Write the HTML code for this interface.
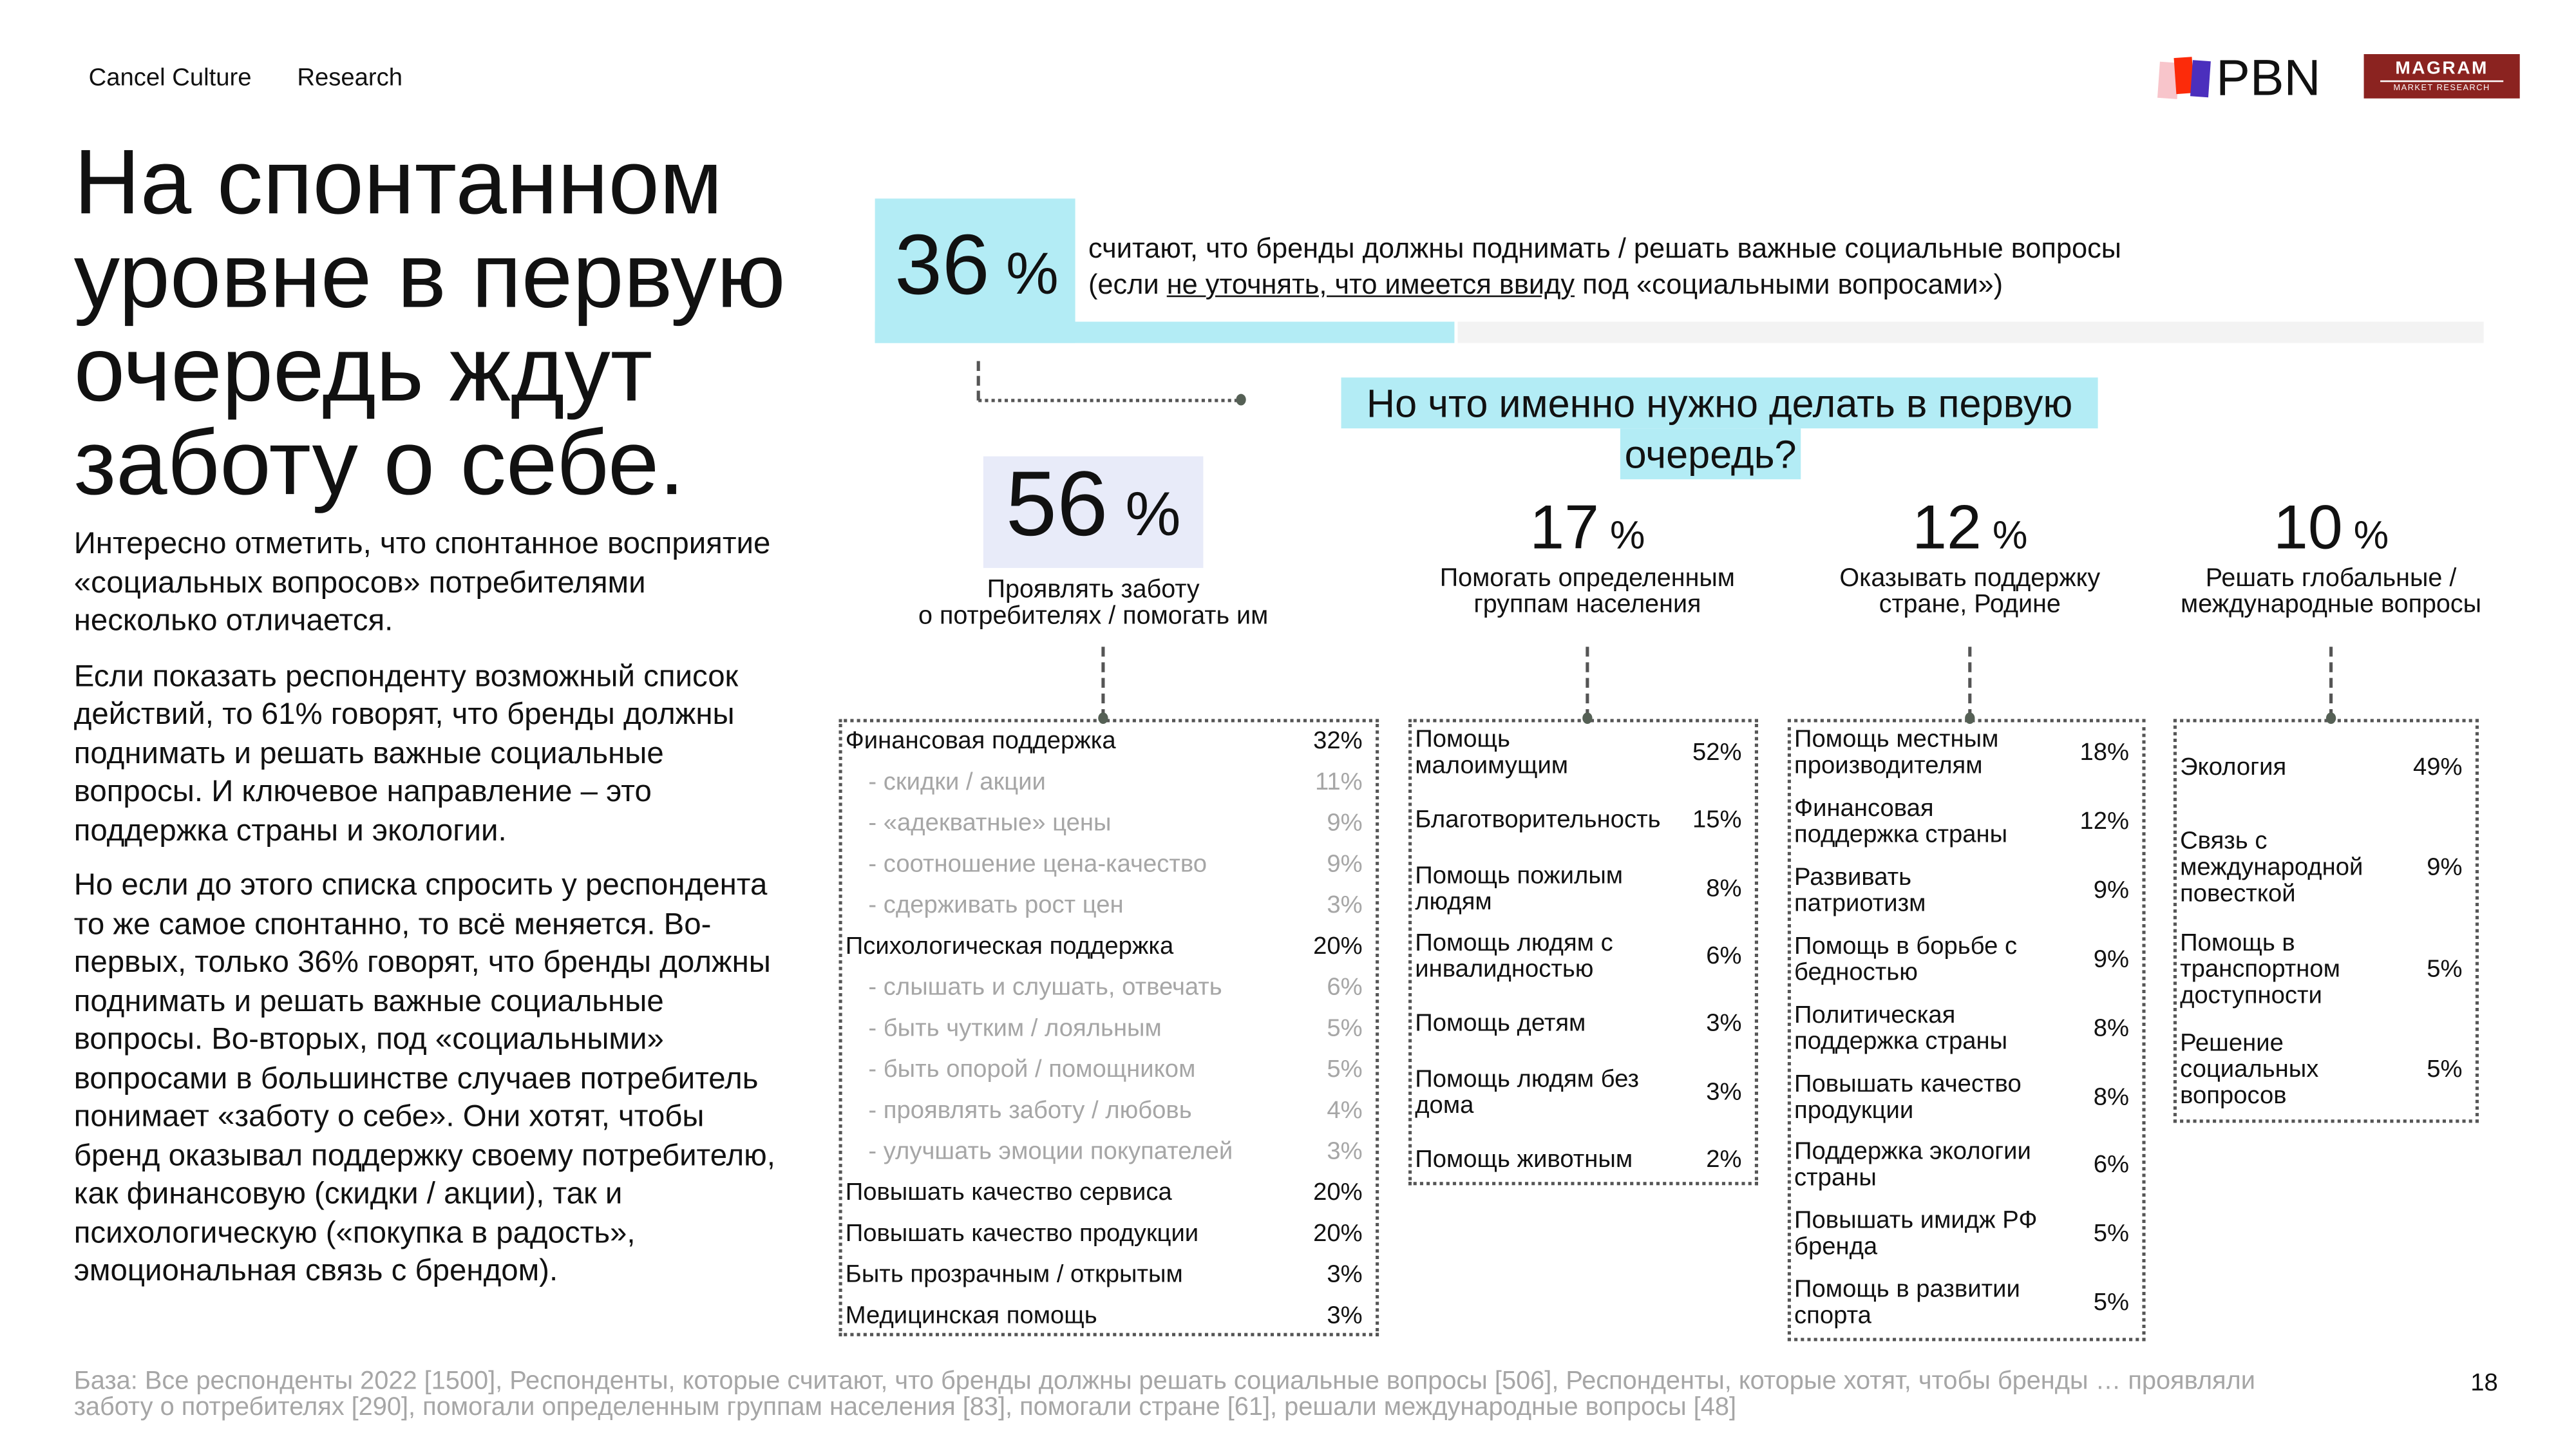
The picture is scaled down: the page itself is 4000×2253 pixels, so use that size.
<!DOCTYPE html>
<html><head><meta charset="utf-8">
<style>
html,body{margin:0;padding:0;background:#fff;}
body{width:4000px;height:2250px;overflow:hidden;}
#stage{position:absolute;left:0;top:5px;width:1570px;height:882px;transform:scale(2.549);transform-origin:0 0;font-family:"Liberation Sans",sans-serif;color:#111;}
.a{position:absolute;white-space:nowrap;}
.box{position:absolute;border:2px dotted #555;box-sizing:border-box;}
.row{position:absolute;font-size:15px;line-height:16px;}
.lbl{position:absolute;left:4px;}
.val{position:absolute;text-align:right;}
.sub{color:#a6a6a6;}
.vline{position:absolute;border-left:2px dashed #555;width:0;}
.dot{position:absolute;width:6px;height:7px;border-radius:50%;background:#556055;}
.cap{position:absolute;text-align:center;font-size:15.5px;line-height:16px;white-space:nowrap;}
</style></head><body>
<div id="stage">
<div class="a" style="left:54px;top:37px;font-size:15px">Cancel Culture</div>
<div class="a" style="left:181px;top:37px;font-size:15px">Research</div>

<div style="position:absolute;left:1313px;top:28px;width:110px;height:32px">
 <div style="position:absolute;left:2px;top:8px;width:12px;height:22px;background:#f8c5cb;transform:rotate(4deg)"></div>
 <div style="position:absolute;left:12px;top:5px;width:11px;height:22px;background:#fc2b0a;transform:rotate(-4deg)"></div>
 <div style="position:absolute;left:22px;top:7px;width:11px;height:22px;background:#4b2fbd;transform:rotate(4deg)"></div>
 <div class="a" style="left:37px;top:0px;font-size:31px;font-weight:500">PBN</div>
</div>
<div style="position:absolute;left:1440px;top:31px;width:95px;height:27px;background:#8b2320;color:#fff;text-align:center">
 <div style="font-size:11px;font-weight:bold;letter-spacing:1px;line-height:12px;margin-top:3px">MAGRAM</div>
 <div style="height:1px;background:#fff;margin:1px 10px"></div>
 <div style="font-size:5px;letter-spacing:0.6px;line-height:7px">MARKET RESEARCH</div>
</div>

<div class="a" style="left:45px;top:80px;font-size:56px;line-height:57px;white-space:normal;width:490px">На спонтанном уровне в первую очередь ждут заботу о себе.</div>

<div class="a" style="left:45px;top:317px;width:438px;white-space:normal;font-size:18.6px;line-height:23.5px">
<p style="margin:0 0 10px">Интересно отметить, что спонтанное восприятие «социальных вопросов» потребителями несколько отличается.</p>
<p style="margin:0 0 10px">Если показать респонденту возможный список действий, то 61% говорят, что бренды должны поднимать и решать важные социальные вопросы. И ключевое направление – это поддержка страны и экологии.</p>
<p style="margin:0">Но если до этого списка спросить у респондента то же самое спонтанно, то всё меняется. Во-первых, только 36% говорят, что бренды должны поднимать и решать важные социальные вопросы. Во-вторых, под «социальными» вопросами в большинстве случаев потребитель понимает «заботу о себе». Они хотят, чтобы бренд оказывал поддержку своему потребителю, как финансовую (скидки / акции), так и психологическую («покупка в радость», эмоциональная связь с брендом).</p>
</div>

<div style="position:absolute;left:533px;top:119px;width:122px;height:88px;background:#b3ecf5"></div>
<div id="bar36" style="position:absolute;left:533px;top:194px;height:13px;background:#b3ecf5"></div>
<div id="bar36rest" style="position:absolute;top:194px;height:13px;background:#f3f3f3"></div>
<div class="a" style="left:545px;top:130px;font-size:52px">36<span style="font-size:36px"> %</span></div>
<div class="a" style="left:663px;top:139px;font-size:17px;line-height:22px">считают, что бренды должны поднимать / решать важные социальные вопросы<br>(если <u>не уточнять, что имеется ввиду</u> под «социальными вопросами»)</div>

<div class="vline" style="left:595px;top:218px;height:24px"></div>
<div style="position:absolute;left:596px;top:241px;width:158px;border-top:2px dotted #555"></div>
<div class="dot" style="left:753px;top:238px"></div>

<div style="position:absolute;left:817px;top:228px;width:461px;height:31px;background:#b3ecf5"></div>
<div style="position:absolute;left:987px;top:259px;width:110px;height:31px;background:#b3ecf5"></div>
<div class="a" style="left:817px;top:229px;width:461px;text-align:center;font-size:24px;line-height:31px">Но что именно нужно делать в первую</div>
<div class="a" style="left:987px;top:260px;width:110px;text-align:center;font-size:24px;line-height:31px">очередь?</div>

<div style="position:absolute;left:599px;top:276px;width:134px;height:68px;background:#e8ebf9"></div>

<div class="a" style="left:45px;top:832px;font-size:15.6px;line-height:16px;color:#a6a6a6;letter-spacing:0px">База: Все респонденты 2022 [1500], Респонденты, которые считают, что бренды должны решать социальные вопросы [506], Респонденты, которые хотят, чтобы бренды … проявляли<br>заботу о потребителях [290], помогали определенным группам населения [83], помогали стране [61], решали международные вопросы [48]</div>
<div class="a" style="left:1505px;top:832px;font-size:15px">18</div>
</div>
<script>
const share36 = 36;
const headValues = [56, 17, 12, 10];
const headLabels = ["Проявлять заботу<br>о потребителях / помогать им","Помогать определенным<br>группам населения","Оказывать поддержку<br>стране, Родине","Решать глобальные /<br>международные вопросы"];
const col1Labels = ["Финансовая поддержка","- скидки / акции","- «адекватные» цены","- соотношение цена-качество","- сдерживать рост цен","Психологическая поддержка","- слышать и слушать, отвечать","- быть чутким / лояльным","- быть опорой / помощником","- проявлять заботу / любовь","- улучшать эмоции покупателей","Повышать качество сервиса","Повышать качество продукции","Быть прозрачным / открытым","Медицинская помощь"];
const col1Values = [32,11,9,9,3,20,6,5,5,4,3,20,20,3,3];
const col2Labels = ["Помощь<br>малоимущим","Благотворительность","Помощь пожилым<br>людям","Помощь людям с<br>инвалидностью","Помощь детям","Помощь людям без<br>дома","Помощь животным"];
const col2Values = [52,15,8,6,3,3,2];
const col3Labels = ["Помощь местным<br>производителям","Финансовая<br>поддержка страны","Развивать<br>патриотизм","Помощь в борьбе с<br>бедностью","Политическая<br>поддержка страны","Повышать качество<br>продукции","Поддержка экологии<br>страны","Повышать имидж РФ<br>бренда","Помощь в развитии<br>спорта"];
const col3Values = [18,12,9,9,8,8,6,5,5];
const col4Labels = ["Экология","Связь с<br>международной<br>повесткой","Помощь в<br>транспортном<br>доступности","Решение<br>социальных<br>вопросов"];
const col4Values = [49,9,5,5];

const barL=533, barR=1513;
const w36=(barR-barL)*share36/100;
document.getElementById('bar36').style.width=w36+'px';
const rest=document.getElementById('bar36rest');
rest.style.left=(barL+w36+2)+'px';rest.style.width=(barR-barL-w36-2)+'px';

const stage=document.getElementById('stage');
function el(cls,css,html){const d=document.createElement('div');d.className=cls;d.style.cssText=css;d.innerHTML=html;stage.appendChild(d);return d;}

const cols=[
 {x:511,w:329,top:436,step:25,first:450,labels:col1Labels,vals:col1Values,cx:672,pad:12},
 {x:858,w:213,top:436,step:41.3,first:457,labels:col2Labels,vals:col2Values,cx:967,pad:15},
 {x:1089,w:218,top:436,step:41.9,first:457,labels:col3Labels,vals:col3Values,cx:1200,pad:23},
 {x:1324,w:186,top:436,step:61.3,first:466,labels:col4Labels,vals:col4Values,cx:1420,pad:32}
];
cols.forEach((c,i)=>{
 const n=c.labels.length;
 const h=(c.first-c.top)+c.step*(n-1)+c.pad;
 const b=el('box',`left:${c.x}px;top:${c.top}px;width:${c.w}px;height:${h}px`,'');
 
 
 const v=el('vline',`left:${c.cx-1}px;top:392px;height:44px`,'');
 
 
 const d=el('dot',`left:${c.cx-3}px;top:432px`,'');
 
 
 const big = i==0;
 const hv=el('a',`left:${big?599:c.cx-70}px;top:${big?275:300}px;width:${big?134:140}px;text-align:center;font-size:${big?56:38}px;line-height:${big?60:40}px`,headValues[i]+`<span style="font-size:${big?38:24}px"> %</span>`);
 
 
 const cx = big?666:c.cx;
 const cap=el('cap',`left:${cx-120}px;width:240px;top:${big?350:343}px`,headLabels[i]);
 
 
 c.labels.forEach((lab,j)=>{
  const y=c.first+c.step*j;
  const lines=(lab.match(/<br>/g)||[]).length+1;
  const sub=lab.startsWith('-');
  const r=el('row'+(sub?' sub':''),`left:${c.x}px;top:${y-lines*8}px;width:${c.w}px;height:${lines*16}px`,'');
  
  
  const l=document.createElement('div');l.className='lbl';l.style.left=(sub?18:4)+'px';l.innerHTML=lab;r.appendChild(l);
  
  
  const vv=document.createElement('div');vv.className='val';vv.style.cssText=`right:10px;top:${(lines-1)*8}px`;vv.textContent=c.vals[j]+'%';r.appendChild(vv);
  
  
 });
});
</script>
</body></html>
